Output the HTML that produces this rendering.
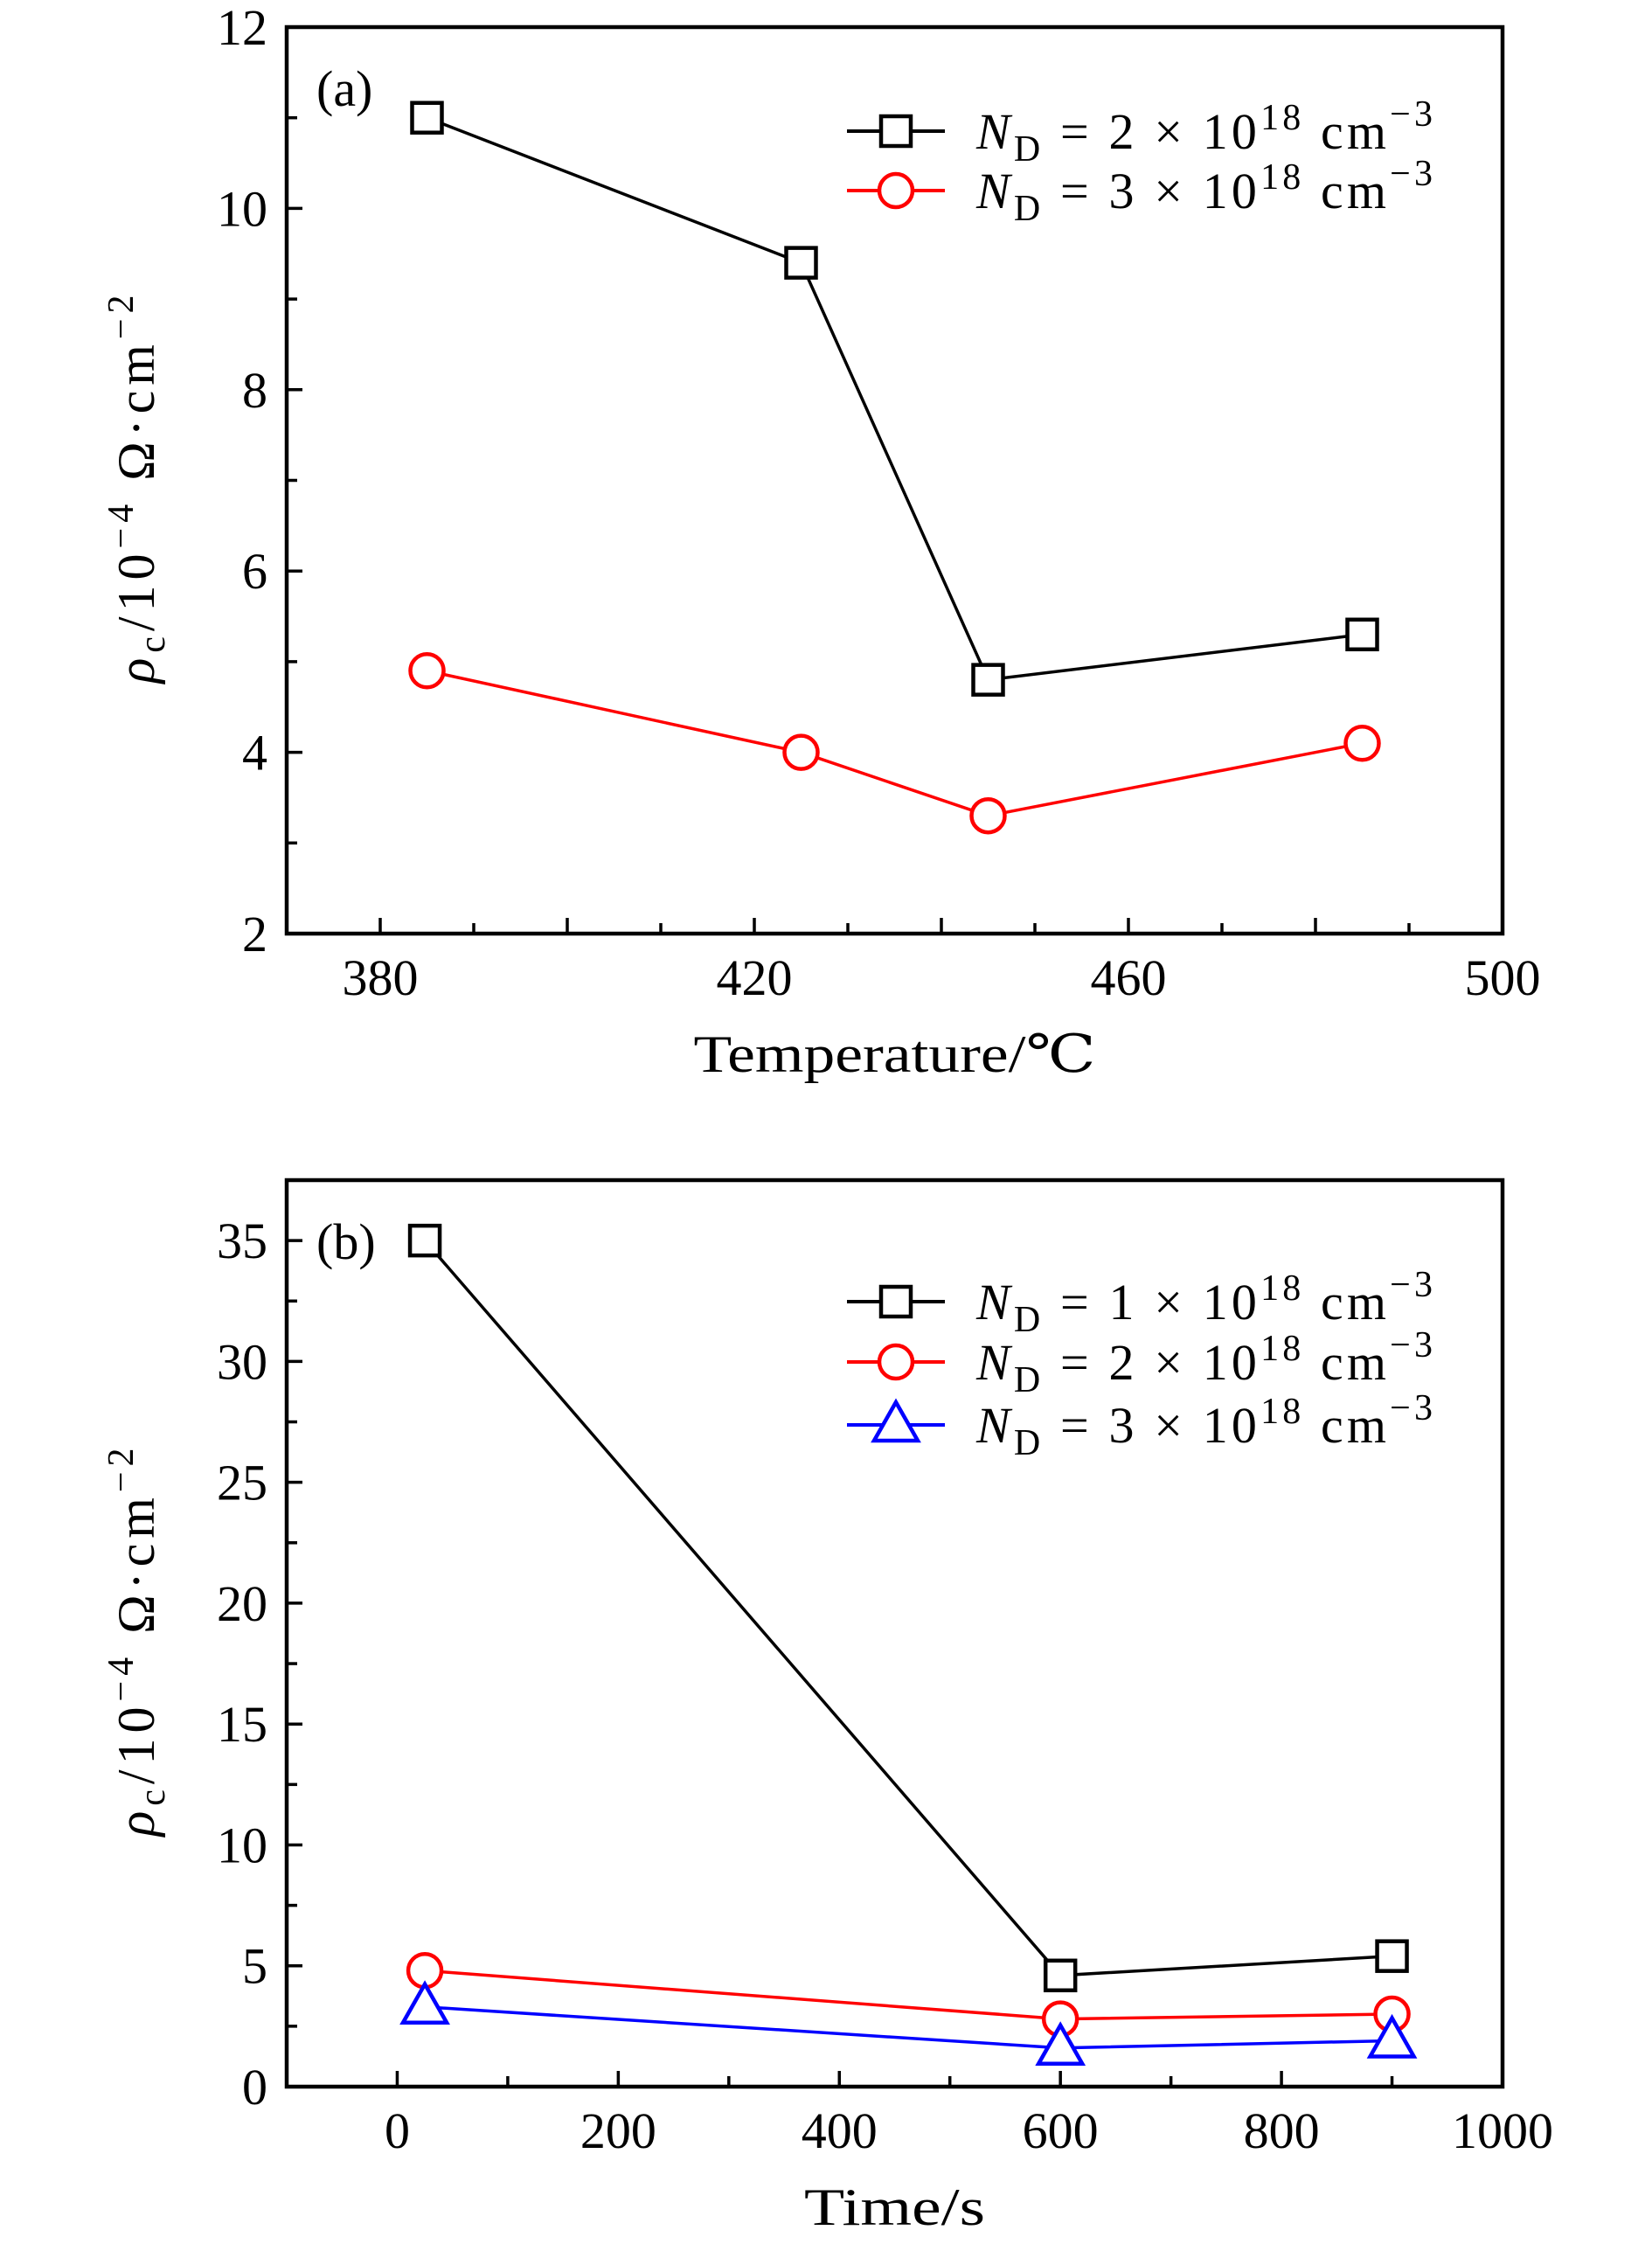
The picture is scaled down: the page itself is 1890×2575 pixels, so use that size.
<!DOCTYPE html>
<html><head><meta charset="utf-8"><style>
html,body{margin:0;padding:0;background:#fff;}
svg{display:block;font-family:"Liberation Serif","DejaVu Serif",serif;}
</style></head><body>
<svg id="fig" width="1890" height="2575" viewBox="0 0 1890 2575" xmlns="http://www.w3.org/2000/svg"></svg>
<script>
// Panel (a) data
const aTemps = [385, 425, 445, 485];
const aSeries1 = [11.0, 9.4, 4.8, 5.3];
const aSeries2 = [4.9, 4.0, 3.3, 4.1];
const aXTickLabels = [380, 420, 460, 500];
const aYTickLabels = [2, 4, 6, 8, 10, 12];
// Panel (b) data
const bTimes = [25, 600, 900];
const bSeries1 = [35, 4.6, 5.4];
const bSeries2 = [4.8, 2.8, 3.0];
const bSeries3 = [3.3, 1.6, 1.9];
const bXTickLabels = [0, 200, 400, 600, 800, 1000];
const bYTickLabels = [0, 5, 10, 15, 20, 25, 30, 35];

const NS = 'http://www.w3.org/2000/svg';
const svg = document.getElementById('fig');
function mk(tag, attrs, parent) {
  const e = document.createElementNS(NS, tag);
  for (const k in attrs) e.setAttribute(k, attrs[k]);
  (parent || svg).appendChild(e);
  return e;
}

function panel(cfg) {
  const g = mk('g', {});
  
  
  const L = 328, R = 1719, T = cfg.top, B = cfg.bottom;
  const sx = v => L + (v - cfg.xmin) / (cfg.xmax - cfg.xmin) * (R - L);
  const sy = v => B - (v - cfg.ymin) / (cfg.ymax - cfg.ymin) * (B - T);
  for (let v = cfg.xmin; v <= cfg.xmax + 1e-9; v += cfg.xminor) {
    const major = Math.abs(Math.round(v / cfg.xmajor) * cfg.xmajor - v) < 1e-6;
    const t = mk('line', {x1: sx(v), x2: sx(v), y1: B, y2: B - (major ? 18 : 12), stroke: '#000', 'stroke-width': 3.5}, g);
    
    
  }
  for (let v = cfg.ymin; v <= cfg.ymax + 1e-9; v += cfg.yminor) {
    const major = Math.abs(Math.round(v / cfg.ymajor) * cfg.ymajor - v) < 1e-6;
    const t = mk('line', {x1: L, x2: L + (major ? 18 : 12), y1: sy(v), y2: sy(v), stroke: '#000', 'stroke-width': 3.5}, g);
    
    
  }
  cfg.xlabels.forEach(v => {
    const t = mk('text', {x: sx(v), y: B + 70, 'font-size': 58, 'text-anchor': 'middle'}, g);
    t.textContent = v;
    
    
  });
  cfg.ylabels.forEach(v => {
    const t = mk('text', {x: L - 22, y: sy(v) + 20, 'font-size': 58, 'text-anchor': 'end'}, g);
    t.textContent = v;
    
    
  });
  const frame = mk('rect', {x: L, y: T, width: R - L, height: B - T, fill: 'none', stroke: '#000', 'stroke-width': 4.5}, g);
  
  
  cfg.series.forEach((s, si) => {
    const sg = mk('g', {}, g);
    
    
    const pts = cfg.xs.map((x, i) => sx(x) + ',' + sy(s.vals[i])).join(' ');
    const pl = mk('polyline', {points: pts, fill: 'none', stroke: s.color, 'stroke-width': 3.5}, sg);
    
    
    cfg.xs.forEach((x, i) => {
      const m = marker(s.shape, sx(x), sy(s.vals[i]), s.color, sg);
      
      
    });
    const ly = cfg.legendY[si];
    const ll = mk('line', {x1: 969, x2: 1081, y1: ly, y2: ly, stroke: s.color, 'stroke-width': 4}, sg);
    
    
    const lm = marker(s.shape, 1025, ly, s.color, sg);
    
    
    const lt = mk('text', {x: 1117, y: ly + 20, 'font-size': 58, textLength: 522, lengthAdjust: 'spacing'}, sg);
    lt.innerHTML = '<tspan font-style="italic">N</tspan><tspan font-size="42" dy="14">D</tspan><tspan dy="-14"> = ' + s.conc + ' × 10</tspan><tspan font-size="42" dy="-22">18</tspan><tspan dy="22"> cm</tspan><tspan font-size="42" dy="-26">−3</tspan>';
    
    
  });
  const pl = mk('text', {x: 362, y: T + 90, 'font-size': 58}, g);
  pl.textContent = cfg.tag;
  
  
  const xt = mk('text', {x: (L + R) / 2, y: B + 158, 'font-size': 60, 'text-anchor': 'middle', textLength: cfg.xtitleLen, lengthAdjust: 'spacingAndGlyphs'}, g);
  xt.textContent = cfg.xtitle;
  
  
  const cy = (T + B) / 2 + 10;
  const yt = mk('text', {x: 0, y: 0, 'font-size': 60, 'text-anchor': 'middle', textLength: 444, lengthAdjust: 'spacing', transform: 'translate(176,' + cy + ') rotate(-90)'}, g);
  yt.innerHTML = '<tspan font-style="italic">ρ</tspan><tspan font-size="42" dy="12">c</tspan><tspan dy="-12">/10</tspan><tspan font-size="42" dy="-24">−4</tspan><tspan dy="24"> Ω·cm</tspan><tspan font-size="42" dy="-24">−2</tspan>';
  
  
}

function marker(shape, x, y, color, parent) {
  if (shape === 'square') return mk('rect', {x: x - 17, y: y - 17, width: 34, height: 34, fill: '#fff', stroke: color, 'stroke-width': 4.5}, parent);
  if (shape === 'circle') return mk('circle', {cx: x, cy: y, r: 19, fill: '#fff', stroke: color, 'stroke-width': 4.5}, parent);
  return mk('polygon', {points: (x) + ',' + (y - 26) + ' ' + (x - 25) + ',' + (y + 18) + ' ' + (x + 25) + ',' + (y + 18), fill: '#fff', stroke: color, 'stroke-width': 4.5}, parent);
}

panel({name: 'panel-a-temperature', tag: '(a)', top: 31, bottom: 1068, xmin: 370, xmax: 500, xmajor: 20, xminor: 10,
  ymin: 2, ymax: 12, ymajor: 2, yminor: 1, xlabels: aXTickLabels, ylabels: aYTickLabels, xs: aTemps,
  xtitle: 'Temperature/℃', xtitleLen: 460, legendY: [150, 218],
  series: [{vals: aSeries1, color: '#000', shape: 'square', conc: '2'}, {vals: aSeries2, color: '#f00', shape: 'circle', conc: '3'}]});
panel({name: 'panel-b-time', tag: '(b)', top: 1350, bottom: 2387, xmin: -100, xmax: 1000, xmajor: 200, xminor: 100,
  ymin: 0, ymax: 37.5, ymajor: 5, yminor: 2.5, xlabels: bXTickLabels, ylabels: bYTickLabels, xs: bTimes,
  xtitle: 'Time/s', xtitleLen: 207, legendY: [1489, 1558, 1630],
  series: [{vals: bSeries1, color: '#000', shape: 'square', conc: '1'}, {vals: bSeries2, color: '#f00', shape: 'circle', conc: '2'}, {vals: bSeries3, color: '#00f', shape: 'triangle', conc: '3'}]});
</script>
</body></html>
